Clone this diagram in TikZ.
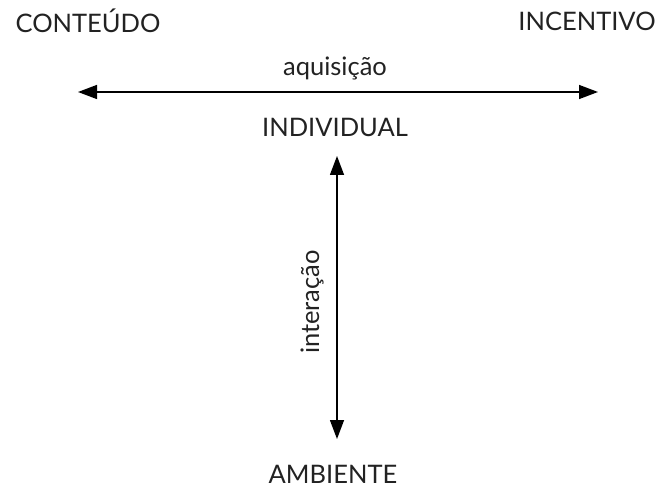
\documentclass[tikz,border=0pt]{standalone}
\usepackage{fontspec}
\setmainfont{Lato}
\usetikzlibrary{arrows.meta}
\definecolor{ink}{HTML}{222222}
\begin{document}
\begin{tikzpicture}[x=1pt,y=-1pt,
  lbl/.style={text=ink,font=\fontsize{25.5}{28}\selectfont,inner sep=0pt,anchor=center},
  conn/.style={line width=1.4pt,draw=black,{Triangle[length=19pt,width=14pt]}-{Triangle[length=19pt,width=14pt]}}]
\useasboundingbox (0,0) rectangle (661,489);
\node[lbl] (c) at (88,21) {CONTEÚDO};
\node[lbl] (i) at (587,21) {INCENTIVO};
\node[lbl] (aq) at (335,68) {aquisição};
\node[lbl] (ind) at (335,127) {INDIVIDUAL};
\node[lbl,rotate=90] (int) at (312,302) {interação};
\node[lbl] (amb) at (333,474) {AMBIENTE};
\coordinate (hl) at (78,92);
\coordinate (hr) at (598,92);
\coordinate (vt) at (337,156);
\coordinate (vb) at (337,439);
\draw[conn] (hl) -- (hr);
\draw[conn] (vt) -- (vb);
\end{tikzpicture}
\end{document}
